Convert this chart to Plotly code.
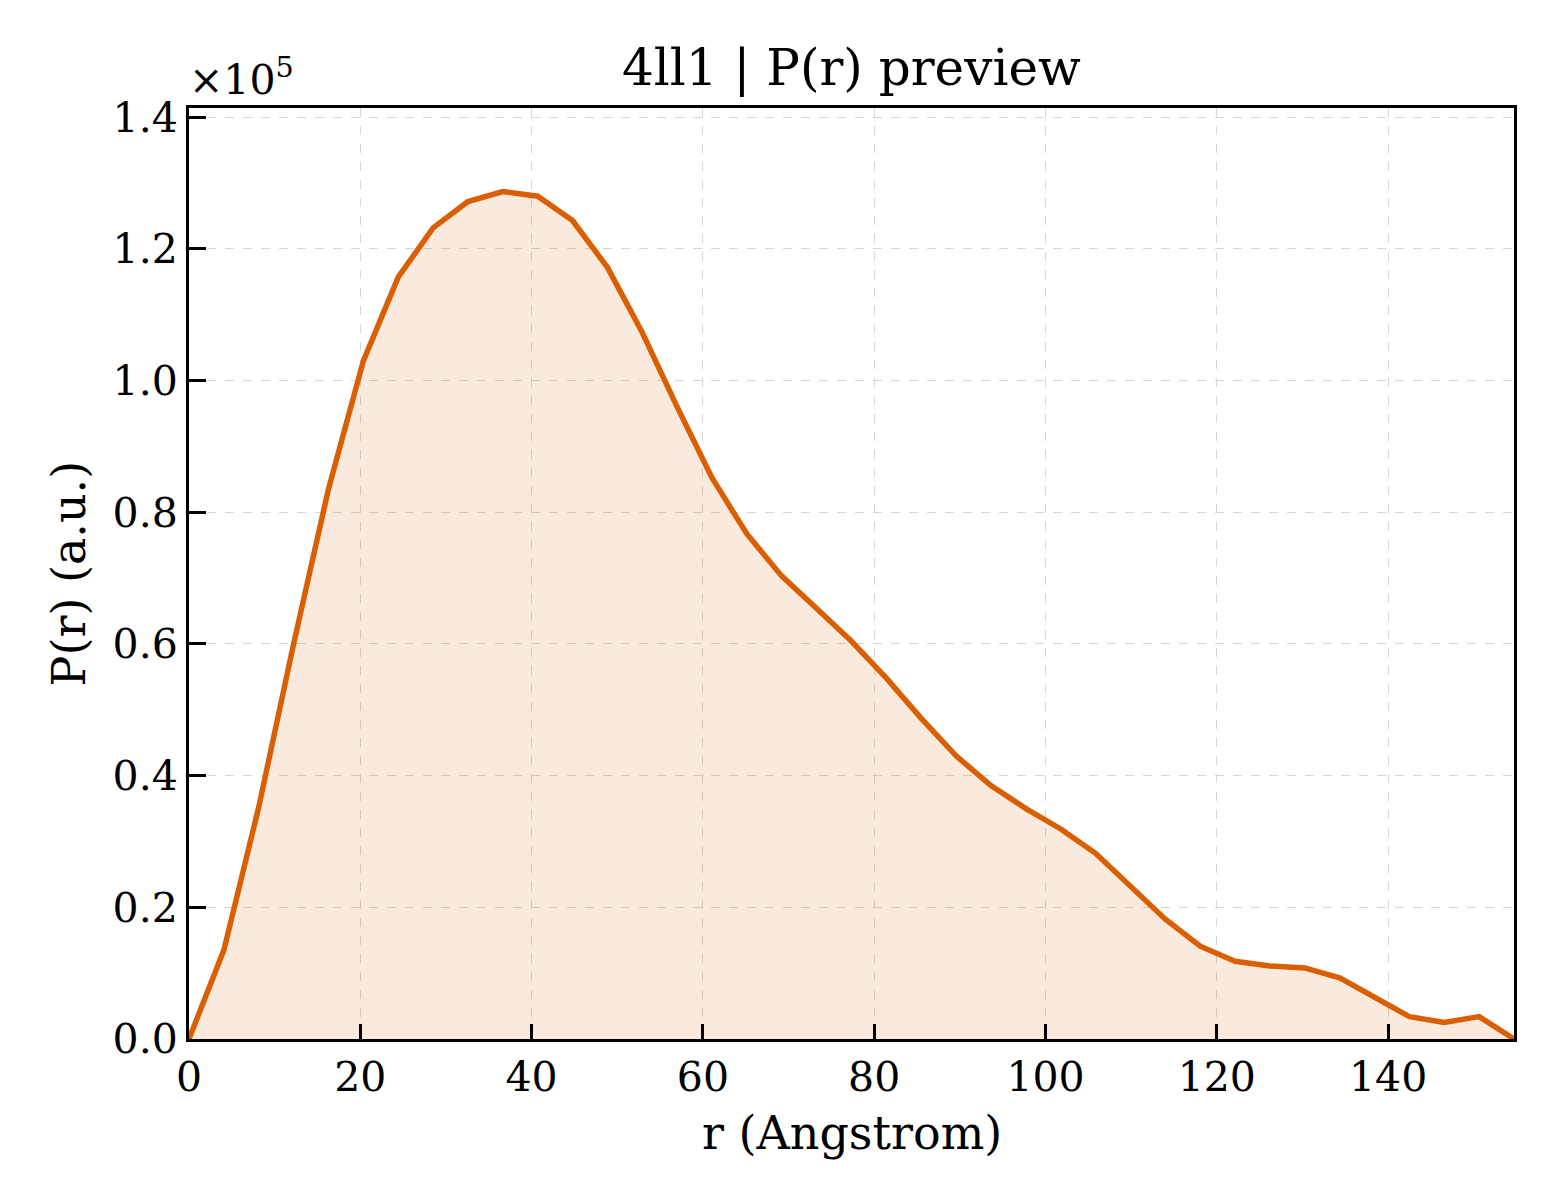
import plotly.graph_objects as go

# r values (Angstrom)
r_values = [0.00, 4.07, 8.14, 12.21, 16.28, 20.36, 24.43, 28.50, 32.57, 36.64,
            40.71, 44.78, 48.85, 52.92, 56.99, 61.07, 65.14, 69.21, 73.28, 77.35,
            81.42, 85.49, 89.56, 93.63, 97.71, 101.78, 105.85, 109.92, 113.99, 118.06,
            122.13, 126.20, 130.27, 134.35, 138.42, 142.49, 146.56, 150.63, 154.70]

# P(r) values (a.u.)
p_values = [0, 13500, 35200, 60000, 83500, 103000, 115700, 123200, 127200, 128700,
            128000, 124300, 117200, 107300, 96000, 85200, 76700, 70300, 65400, 60400,
            54800, 48700, 43000, 38500, 35000, 31900, 28200, 23300, 18200, 14100,
            11800, 11100, 10800, 9300, 6300, 3400, 2500, 3400, 0]

y_tick_vals = [0, 20000, 40000, 60000, 80000, 100000, 120000, 140000]
y_tick_text = ["0.0", "0.2", "0.4", "0.6", "0.8", "1.0", "1.2", "1.4"]
x_tick_vals = [0, 20, 40, 60, 80, 100, 120, 140]

LINE = "#D95F02"
FONT = "DejaVu Serif"

fig = go.Figure()
fig.add_trace(go.Scatter(
    x=r_values, y=p_values, mode="lines",
    line=dict(color=LINE, width=5.5),
    fill="tozeroy", fillcolor="rgba(217,95,2,0.13)",
    showlegend=False, hoverinfo="skip",
))

axis_common = dict(
    showline=True, linecolor="black", linewidth=3, mirror=True,
    ticks="inside", tickcolor="black", tickwidth=2.5,
    showgrid=True, gridcolor="#d6d6d6", gridwidth=1.4, griddash="dash",
    zeroline=False,
    tickfont=dict(family=FONT, size=41, color="black"),
)

fig.update_xaxes(range=[0, 154.7], tickvals=x_tick_vals, ticklen=15, **axis_common)
fig.update_yaxes(range=[0, 141400], tickvals=y_tick_vals, ticktext=y_tick_text,
                 ticklen=17, **axis_common)

fig.update_layout(
    width=1560, height=1200,
    margin=dict(l=181, r=54, t=100, b=169),
    paper_bgcolor="white", plot_bgcolor="white",
    font=dict(family=FONT, color="black"),
    annotations=[
        dict(text="4ll1 | P(r) preview", x=0.5, y=1, xref="paper", yref="paper",
             xanchor="center", yanchor="middle", yshift=40, showarrow=False,
             font=dict(family=FONT, size=50, color="black")),
        dict(text="×10<sup>5</sup>", x=0, y=1, xref="paper", yref="paper",
             xanchor="left", yanchor="bottom", xshift=-2, yshift=2, showarrow=False,
             font=dict(family=FONT, size=41, color="black")),
        dict(text="P(r) (a.u.)", x=0, y=0.5, xref="paper", yref="paper",
             xanchor="center", yanchor="middle", xshift=-121, textangle=-90,
             showarrow=False, font=dict(family=FONT, size=46, color="black")),
        dict(text="r (Angstrom)", x=0.5, y=0, xref="paper", yref="paper",
             xanchor="center", yanchor="middle", yshift=-94,
             showarrow=False, font=dict(family=FONT, size=46, color="black")),
    ],
)

fig.write_html("out.html")
